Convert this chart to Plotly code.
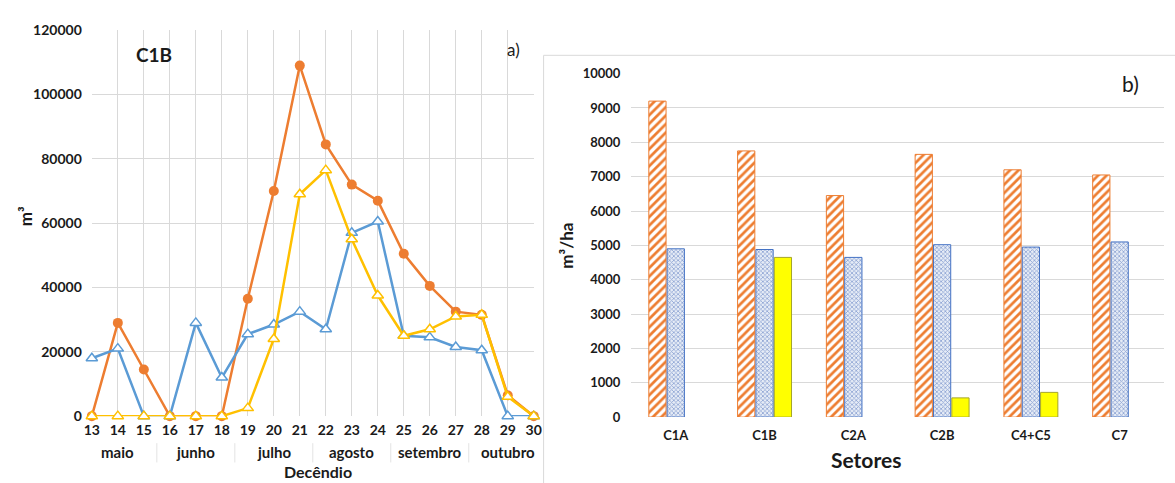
import plotly.graph_objects as go

W, H = 1175, 483

# ---------- data: panel a) ----------
decendios = list(range(13, 31))
serie_laranja = [0, 29000, 14500, 0, 0, 0, 36500, 70000, 109000, 84500, 72000, 67000, 50500, 40500, 32500, 31500, 6500, 0]
serie_azul = [18000, 21000, 0, 0, 29000, 12000, 25500, 28500, 32500, 27000, 57000, 60500, 25000, 24500, 21500, 20500, 0, 0]
serie_amarela = [0, 0, 0, 0, 0, 0, 2500, 24000, 69000, 76500, 55000, 37500, 25000, 27000, 31000, 31500, 6000, 0]
meses = ["maio", "junho", "julho", "agosto", "setembro", "outubro"]
meses_centro = [14, 17, 20, 23, 26, 29]
meses_sep = [15.5, 18.5, 21.5, 24.5, 27.5]

# ---------- data: panel b) ----------
setores = ["C1A", "C1B", "C2A", "C2B", "C4+C5", "C7"]
barras_laranja = [9200, 7750, 6450, 7650, 7200, 7050]
barras_azul = [4900, 4880, 4650, 5020, 4950, 5100]
barras_amarela = [None, 4650, None, 560, 720, None]


def px(x):
    return x / W


def py(y):
    return 1 - y / H


FONT = "Lato"
ORANGE = "#ED7D31"
BLUE = "#5B9BD5"
YELLOW = "#FFC000"
GRID = "#D9D9D9"
TXT = "#1a1a1a"

fig = go.Figure()

# panel a lines
fig.add_trace(go.Scatter(
    x=decendios, y=serie_laranja, mode="lines+markers", xaxis="x", yaxis="y",
    line=dict(color=ORANGE, width=2.5), cliponaxis=False,
    marker=dict(symbol="circle", size=10, color=ORANGE), showlegend=False))
fig.add_trace(go.Scatter(
    x=decendios, y=serie_azul, mode="lines+markers", xaxis="x", yaxis="y",
    line=dict(color=BLUE, width=2.5), cliponaxis=False,
    marker=dict(symbol="triangle-up", size=10, color="white", line=dict(color=BLUE, width=1.5)),
    showlegend=False))
fig.add_trace(go.Scatter(
    x=decendios, y=serie_amarela, mode="lines+markers", xaxis="x", yaxis="y",
    line=dict(color=YELLOW, width=2.5), cliponaxis=False,
    marker=dict(symbol="triangle-up", size=10, color="white", line=dict(color=YELLOW, width=1.5)),
    showlegend=False))

# panel b bars
fig.add_trace(go.Bar(
    x=setores, y=barras_laranja, xaxis="x2", yaxis="y2", showlegend=False,
    marker=dict(color="white", line=dict(color=ORANGE, width=1),
                pattern=dict(shape="/", fgcolor=ORANGE, bgcolor="white", size=6, solidity=0.45,
                             fillmode="replace"))))
fig.add_trace(go.Bar(
    x=setores, y=barras_azul, xaxis="x2", yaxis="y2", showlegend=False,
    marker=dict(color="#DCE3F0", line=dict(color="#4472C4", width=1),
                pattern=dict(shape="x", fgcolor="#8CA3D3", bgcolor="#E6ECF6", size=3, solidity=0.45,
                             fillmode="replace"))))
fig.add_trace(go.Bar(
    x=setores, y=barras_amarela, xaxis="x2", yaxis="y2", showlegend=False,
    marker=dict(color="#FFFF00", line=dict(color="#A5A52A", width=1))))

tickfont = dict(family=FONT, size=14, color=TXT, weight="bold")

fig.update_layout(
    width=W, height=H,
    margin=dict(l=0, r=0, t=0, b=0),
    paper_bgcolor="white", plot_bgcolor="white",
    barmode="group", bargap=0.38, bargroupgap=0.06,
    xaxis=dict(domain=[px(85), px(533)], range=[13, 30], tickvals=decendios,
               showgrid=True, gridcolor=GRID, gridwidth=1, zeroline=False, showline=False,
               ticks="", tickfont=tickfont, ticklabelstandoff=4, fixedrange=True),
    yaxis=dict(domain=[py(422), py(22)], range=[0, 120000], tickvals=list(range(0, 120001, 20000)),
               tickformat="d",
               showgrid=True, gridcolor=GRID, gridwidth=1, zeroline=False, showline=False,
               ticks="", tickfont=tickfont, ticklabelstandoff=9, fixedrange=True),
    xaxis2=dict(domain=[px(632), px(1172)], range=[-0.5, 5.5], anchor="y2",
                showgrid=False, zeroline=False, showline=False, ticks="",
                tickfont=dict(family=FONT, size=13, color=TXT, weight="bold"),
                ticklabelstandoff=9, fixedrange=True),
    yaxis2=dict(domain=[py(423), py(67)], range=[0, 10000], anchor="x2",
                tickvals=list(range(0, 10001, 1000)), tickformat="d",
                showgrid=True, gridcolor=GRID, gridwidth=1, zeroline=False, showline=False,
                ticks="", tickfont=dict(family=FONT, size=13, color=TXT, weight="bold"),
                ticklabelstandoff=10, fixedrange=True),
)

annotations = []
for m, c in zip(meses, meses_centro):
    annotations.append(dict(x=c, y=py(459), xref="x", yref="paper", text=m, showarrow=False,
                            font=dict(family=FONT, size=15, color=TXT, weight="bold"),
                            xanchor="center", yanchor="middle"))
annotations += [
    dict(x=px(314), y=py(467), xref="paper", yref="paper", text="Decêndio", showarrow=False,
         font=dict(family=FONT, size=16, color=TXT, weight="bold"), xanchor="center", yanchor="top"),
    dict(x=px(18), y=py(215), xref="paper", yref="paper", text="m³", showarrow=False, textangle=-90,
         font=dict(family=FONT, size=17, color=TXT, weight="bold"), xanchor="center", yanchor="middle"),
    dict(x=px(148), y=py(47), xref="paper", yref="paper", text="C1B", showarrow=False,
         font=dict(family=FONT, size=19, color=TXT, weight="bold"), xanchor="center", yanchor="middle"),
    dict(x=px(512), y=py(42), xref="paper", yref="paper", text="a)", showarrow=False,
         font=dict(family=FONT, size=17, color=TXT), xanchor="center", yanchor="middle"),
    dict(x=px(566), y=py(245), xref="paper", yref="paper", text="m³/ha", showarrow=False, textangle=-90,
         font=dict(family=FONT, size=17, color=TXT, weight="bold"), xanchor="center", yanchor="middle"),
    dict(x=px(870), y=py(467), xref="paper", yref="paper", text="Setores", showarrow=False,
         font=dict(family=FONT, size=21, color=TXT, weight="bold"), xanchor="center", yanchor="middle"),
    dict(x=px(1138), y=py(77), xref="paper", yref="paper", text="b)", showarrow=False,
         font=dict(family=FONT, size=21, color=TXT), xanchor="center", yanchor="middle"),
]
fig.update_layout(annotations=annotations)

shapes = []
for s in meses_sep:
    shapes.append(dict(type="line", xref="x", yref="paper", x0=s, x1=s, y0=py(450), y1=py(470),
                       line=dict(color="#E3E3E3", width=1)))
shapes.append(dict(type="rect", xref="paper", yref="paper", x0=px(543), x1=px(1185), y0=py(495), y1=py(48),
                   line=dict(color="#D9D9D9", width=1), fillcolor="rgba(0,0,0,0)", layer="below"))
fig.update_layout(shapes=shapes)

fig.write_html("out.html", config={"displayModeBar": False},
               post_script="document.body.style.margin='0px';document.body.style.overflow='hidden';")
